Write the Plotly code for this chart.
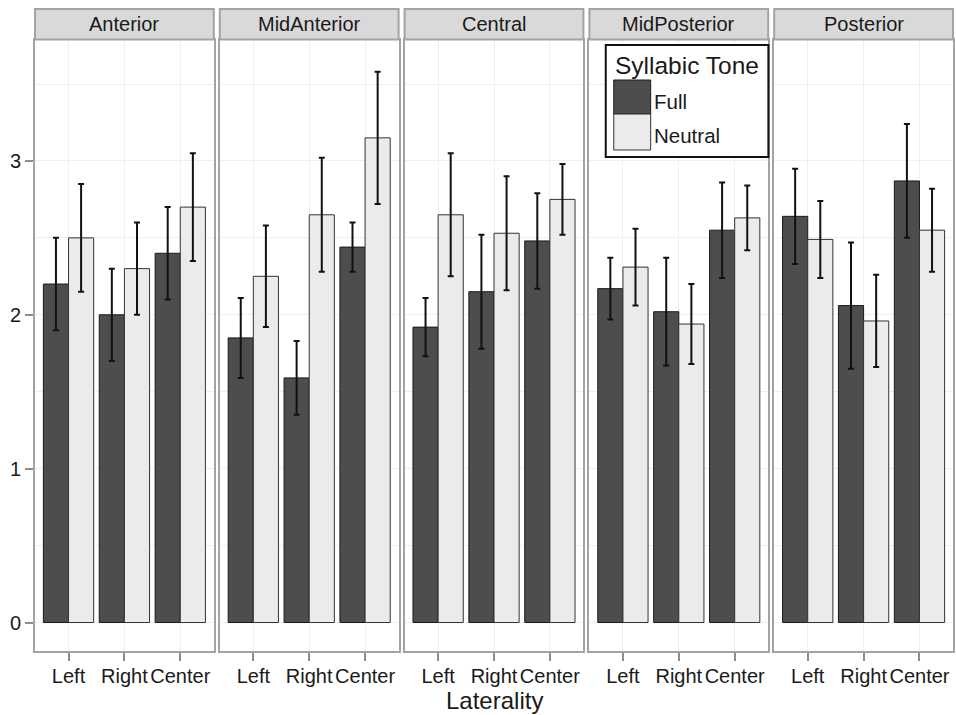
import plotly.graph_objects as go

# ---------------- data ----------------
regions = ["Anterior", "MidAnterior", "Central", "MidPosterior", "Posterior"]
laterality = ["Left", "Right", "Center"]
tone_levels = ["Full", "Neutral"]

full_means = [
    [2.20, 2.00, 2.40],   # Anterior
    [1.85, 1.59, 2.44],   # MidAnterior
    [1.92, 2.15, 2.48],   # Central
    [2.17, 2.02, 2.55],   # MidPosterior
    [2.64, 2.06, 2.87],   # Posterior
]
full_err = [
    [0.30, 0.30, 0.30],
    [0.26, 0.24, 0.16],
    [0.19, 0.37, 0.31],
    [0.20, 0.35, 0.31],
    [0.31, 0.41, 0.37],
]
neutral_means = [
    [2.50, 2.30, 2.70],
    [2.25, 2.65, 3.15],
    [2.65, 2.53, 2.75],
    [2.31, 1.94, 2.63],
    [2.49, 1.96, 2.55],
]
neutral_err = [
    [0.35, 0.30, 0.35],
    [0.33, 0.37, 0.43],
    [0.40, 0.37, 0.23],
    [0.25, 0.26, 0.21],
    [0.25, 0.30, 0.27],
]
y_ticks = [0, 1, 2, 3]
y_tick_labels = ["0", "1", "2", "3"]

# ---------------- style / geometry ----------------
W, H = 956, 715
ML, MR, MT, MB = 35, 1, 9, 64
PW = W - ML - MR
PH = H - MT - MB
panel_w, gap = 179.2, 6.0

def px_x(px):
    return (px - ML) / PW

def px_y(py):
    return (H - MB - py) / PH

FONT = "Liberation Sans, Arial, sans-serif"
DARK = "#4d4d4d"
LIGHT = "#ebebeb"
BORDER = "#a3a3a3"
GRID = "#efefef"
TXT = "#1a1a1a"

panel_top = px_y(40)
strip_bottom = px_y(39.5)

fig = go.Figure()
layout_axes = {}
shapes = []
annotations = []

for i, reg in enumerate(regions):
    x0 = i * (panel_w + gap) / PW
    x1 = (i * (panel_w + gap) + panel_w) / PW
    xa = "x" if i == 0 else f"x{i+1}"
    ya = "y" if i == 0 else f"y{i+1}"
    for tone, means, errs, col, lcol in [
        ("Full", full_means[i], full_err[i], DARK, "#1a1a1a"),
        ("Neutral", neutral_means[i], neutral_err[i], LIGHT, "#333333"),
    ]:
        fig.add_trace(go.Bar(
            x=laterality, y=means, name=tone, xaxis=xa, yaxis=ya,
            offsetgroup=tone, showlegend=False,
            marker=dict(color=col, line=dict(color=lcol, width=1)),
            error_y=dict(type="data", array=errs, visible=True,
                         color="#111111", thickness=2, width=3),
        ))
    layout_axes["xaxis" if i == 0 else f"xaxis{i+1}"] = dict(
        domain=[x0, x1], anchor=ya, type="category",
        categoryorder="array", categoryarray=laterality,
        range=[-0.6, 2.6], showline=True, mirror=True,
        linecolor=BORDER, linewidth=2, ticks="outside", ticklen=8,
        tickwidth=1.5, tickcolor="#8c8c8c", ticklabelstandoff=-2,
        tickfont=dict(size=20, color=TXT, family=FONT),
        showgrid=True, gridcolor=GRID, gridwidth=1, zeroline=False,
        fixedrange=True,
    )
    yax = dict(
        domain=[0, panel_top], anchor=xa, range=[-0.185, 3.786],
        showline=True, mirror=True, linecolor=BORDER, linewidth=2,
        tickvals=y_ticks, ticktext=y_tick_labels,
        showgrid=True, gridcolor=GRID, gridwidth=1, zeroline=False,
        minor=dict(dtick=0.5, tick0=0, showgrid=True, gridcolor=GRID, gridwidth=1),
        fixedrange=True,
    )
    if i == 0:
        yax.update(ticks="outside", ticklen=8, tickwidth=1.5, tickcolor="#8c8c8c",
                   showticklabels=True,
                   tickfont=dict(size=20, color=TXT, family=FONT))
    else:
        yax.update(ticks="", showticklabels=False, matches="y")
    layout_axes["yaxis" if i == 0 else f"yaxis{i+1}"] = yax

    # facet strip
    shapes.append(dict(type="rect", xref="paper", yref="paper",
                       x0=x0, x1=x1, y0=strip_bottom, y1=1.0,
                       fillcolor="#d9d9d9", line=dict(color=BORDER, width=2),
                       layer="above"))
    annotations.append(dict(xref="paper", yref="paper", x=(x0 + x1) / 2,
                            y=(strip_bottom + 1.0) / 2, text=reg, showarrow=False,
                            xanchor="center", yanchor="middle",
                            font=dict(size=20, color=TXT, family=FONT)))

# custom legend (drawn inside MidPosterior panel)
shapes.append(dict(type="rect", xref="paper", yref="paper",
                   x0=px_x(607), x1=px_x(770), y0=px_y(157), y1=px_y(45),
                   fillcolor="white", line=dict(color="#111111", width=2), layer="above"))
shapes.append(dict(type="rect", xref="paper", yref="paper",
                   x0=px_x(615), x1=px_x(652), y0=px_y(114), y1=px_y(80),
                   fillcolor=DARK, line=dict(color="#1a1a1a", width=1), layer="above"))
shapes.append(dict(type="rect", xref="paper", yref="paper",
                   x0=px_x(615), x1=px_x(652), y0=px_y(150), y1=px_y(114),
                   fillcolor=LIGHT, line=dict(color="#333333", width=1), layer="above"))
annotations.append(dict(xref="paper", yref="paper", x=px_x(614), y=px_y(65),
                        text="Syllabic Tone", showarrow=False, xanchor="left",
                        yanchor="middle", font=dict(size=24.5, color=TXT, family=FONT)))
annotations.append(dict(xref="paper", yref="paper", x=px_x(653), y=px_y(101),
                        text=tone_levels[0], showarrow=False, xanchor="left",
                        yanchor="middle", font=dict(size=20.5, color=TXT, family=FONT)))
annotations.append(dict(xref="paper", yref="paper", x=px_x(653), y=px_y(135),
                        text=tone_levels[1], showarrow=False, xanchor="left",
                        yanchor="middle", font=dict(size=20.5, color=TXT, family=FONT)))

# x-axis title
annotations.append(dict(xref="paper", yref="paper", x=px_x(496), y=px_y(700),
                        text="Laterality", showarrow=False, xanchor="center",
                        yanchor="middle", font=dict(size=24, color=TXT, family=FONT)))

fig.update_layout(
    width=W, height=H,
    margin=dict(l=ML, r=MR, t=MT, b=MB, pad=0),
    paper_bgcolor="white", plot_bgcolor="white",
    barmode="group", bargap=0.1, bargroupgap=0.0,
    showlegend=False,
    shapes=shapes, annotations=annotations,
    font=dict(family=FONT, color=TXT),
    **layout_axes,
)

fig.write_html(
    "out.html",
    config={"displayModeBar": False},
    post_script="document.body.style.margin='0px';document.body.style.padding='0px';document.body.style.overflow='hidden';",
)
